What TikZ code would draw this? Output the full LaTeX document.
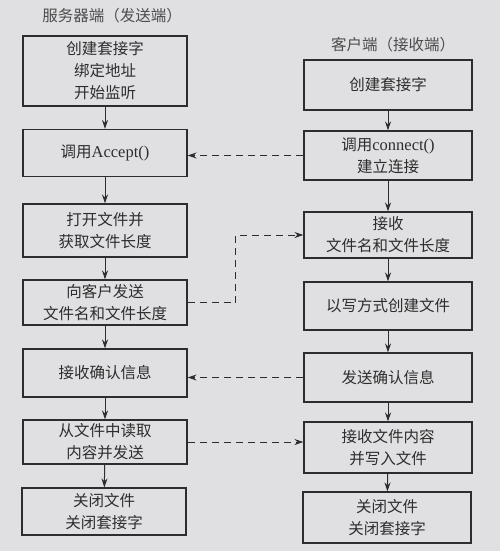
\documentclass[tikz,border=0pt]{standalone}
\usepackage{fontspec}
\newfontfamily\cjk{Noto Sans CJK SC}
\newfontfamily\lat{Liberation Serif}
\usetikzlibrary{arrows.meta,calc}
\definecolor{bg}{RGB}{224,224,226}
\definecolor{ink}{RGB}{45,45,45}
\tikzset{
  box/.style={draw=ink, line width=1.1pt, align=center, text=ink, inner sep=2pt,
    font=\fontsize{15.5}{22}\selectfont\cjk},
  lbox/.style={box, minimum width=164pt},
  rbox/.style={box, minimum width=168pt},
  flow/.style={draw=ink, line width=1pt, -{Stealth[length=9pt,width=6pt]}},
  msg/.style={draw=ink, line width=1pt, dash pattern=on 7pt off 5pt, -{Stealth[length=9pt,width=6pt]}},
  ttl/.style={text=ink!85, font=\fontsize{15.5}{20}\selectfont\cjk}
}
\newcommand{\lt}[1]{{\lat\fontsize{16.5}{22}\selectfont #1}}
\begin{document}
\begin{tikzpicture}[x=1pt,y=-1pt]
\fill[bg] (0,0) rectangle (500,551);
\useasboundingbox (0,0) rectangle (500,551);

\node[ttl] (tl) at (112,16) {服务器端（发送端）};
\node[ttl] (tr) at (393,45) {客户端（接收端）};

\node[lbox, minimum height=70pt] (L1) at (105,71) {创建套接字\\绑定地址\\开始监听};
\node[lbox, minimum height=47pt] (L2) at (105,153) {调用\lt{Accept()}};
\node[lbox, minimum height=53pt] (L3) at (105,230.5) {打开文件并\\获取文件长度};
\node[lbox, minimum height=45pt] (L4) at (105,302.5) {向客户发送\\文件名和文件长度};
\node[lbox, minimum height=48pt] (L5) at (105,373) {接收确认信息};
\node[lbox, minimum height=44pt] (L6) at (105,442) {从文件中读取\\内容并发送};
\node[lbox, minimum height=47pt] (L7) at (104,511.5) {关闭文件\\关闭套接字};

\node[rbox, minimum height=50pt] (R1) at (388,85) {创建套接字};
\node[rbox, minimum height=49pt] (R2) at (388,155.5) {调用\lt{connect()}\\建立连接};
\node[rbox, minimum height=46pt] (R3) at (388,235) {接收\\文件名和文件长度};
\node[rbox, minimum height=48pt] (R4) at (388,306) {以写方式创建文件};
\node[rbox, minimum height=49pt] (R5) at (388,377.5) {发送确认信息};
\node[rbox, minimum height=51pt] (R6) at (388,447.5) {接收文件内容\\并写入文件};
\node[rbox, minimum height=51pt] (R7) at (387,517.5) {关闭文件\\关闭套接字};

\foreach \a/\b in {L1/L2,L2/L3,L3/L4,L4/L5,L5/L6,L6/L7,R1/R2,R2/R3,R3/R4,R4/R5,R5/R6,R6/R7}
  \draw[flow] (\a) -- (\b);

\draw[msg] (R2.west) -- (R2.west -| L2.east);
\draw[msg] (L4.east) -- ++(48,0) |- (R3.west);
\draw[msg] (R5.west) -- (R5.west -| L5.east);
\draw[msg] (L6.east) -- (L6.east -| R6.west);
\end{tikzpicture}
\end{document}
